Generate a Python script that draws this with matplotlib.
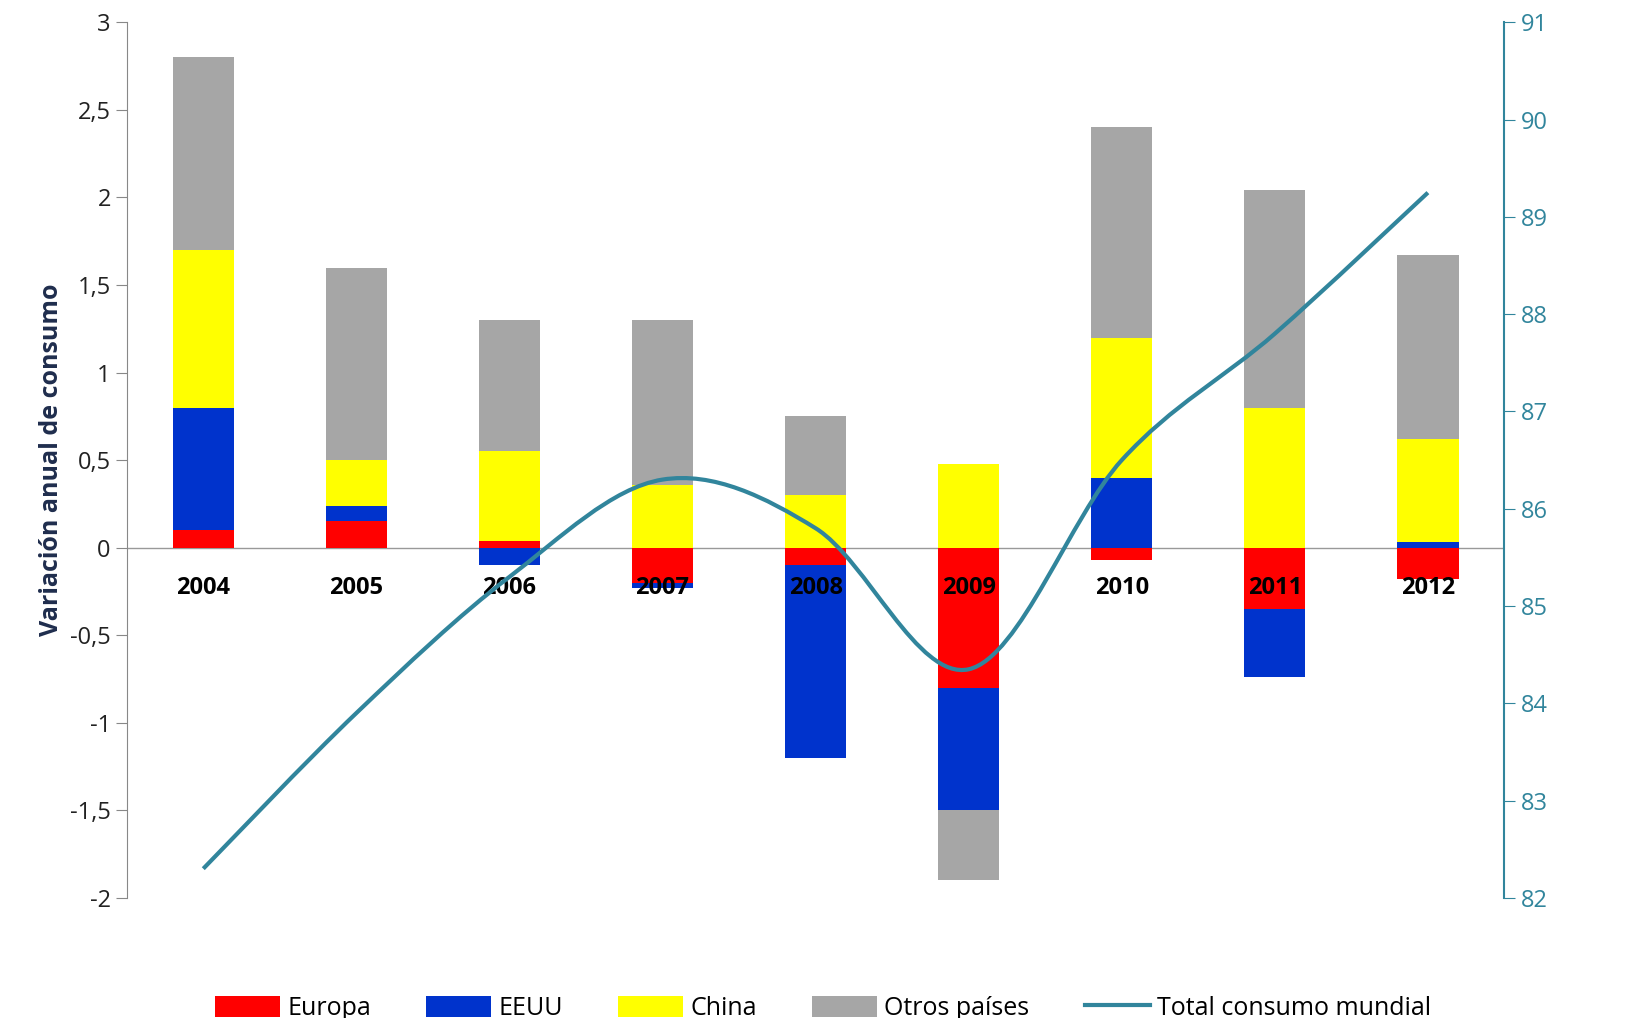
import matplotlib
matplotlib.use("Agg")
import matplotlib.pyplot as plt
import numpy as np
from matplotlib.path import Path
from matplotlib.patches import PathPatch

years = ["2004","2005","2006","2007","2008","2009","2010","2011","2012"]
europa = [0.10, 0.15, 0.04, -0.20, -0.10, -0.80, -0.07, -0.35, -0.18]
eeuu   = [0.70, 0.09, -0.10, -0.03, -1.10, -0.70, 0.40, -0.39, 0.03]
china  = [0.90, 0.26, 0.51, 0.36, 0.30, 0.48, 0.80, 0.80, 0.59]
otros  = [1.10, 1.10, 0.75, 0.94, 0.45, -0.40, 1.20, 1.24, 1.05]
total  = [82.3, 83.9, 85.3, 86.3, 85.8, 84.35, 86.5, 87.8, 89.25]

plt.rcParams['font.family'] = ['Open Sans', 'DejaVu Sans']
fig = plt.figure(figsize=(16.46, 10.18), dpi=100)
ax = fig.add_axes([0.077, 0.118, 0.837, 0.86])
x = np.arange(len(years))
pos = np.zeros(len(x)); neg = np.zeros(len(x))
series = [(europa, "#ff0000", "Europa"), (eeuu, "#0033cc", "EEUU"),
          (china, "#ffff00", "China"), (otros, "#a6a6a6", "Otros países")]
for vals, c, lab in series:
    v = np.array(vals)
    bottom = np.where(v >= 0, pos, neg)
    ax.bar(x, v, 0.4, bottom=bottom, color=c, label=lab, zorder=2)
    pos = pos + np.where(v >= 0, v, 0)
    neg = neg + np.where(v < 0, v, 0)

ax.set_xlim(-0.5, 8.5)
ax.set_ylim(-2, 3)
ax.set_yticks(np.arange(-2, 3.01, 0.5))
ax.set_yticklabels([("%g" % t).replace(".", ",") for t in np.arange(-2, 3.01, 0.5)], fontsize=17, color="#222")
ax.set_xticks([])
ax.axhline(0, color="#999999", lw=1, zorder=1)
for s in ["top", "right", "bottom"]:
    ax.spines[s].set_visible(False)
ax.spines["left"].set_color("#888")
ax.tick_params(axis="y", length=8, color="#888")
for i, y in enumerate(years):
    ax.text(i, -0.23, y, ha="center", va="center", fontsize=17, fontweight="bold", zorder=5)
ax.set_ylabel("Variación anual de consumo", fontsize=18, fontweight="bold", color="#1f2d4d")

ax2 = ax.twinx()
ax2.set_ylim(82, 91)
ax2.set_yticks(range(82, 92))
for s in ["top", "left", "bottom"]:
    ax2.spines[s].set_visible(False)
ax2.spines["right"].set_color("#31859c")
ax2.spines["right"].set_linewidth(1.5)
ax2.tick_params(axis="y", colors="#31859c", labelsize=17, length=8)

P = np.column_stack([x, total]).astype(float)
verts = [P[0]]; codes = [Path.MOVETO]
for i in range(len(P) - 1):
    p0 = P[max(i - 1, 0)]; p1 = P[i]; p2 = P[i + 1]; p3 = P[min(i + 2, len(P) - 1)]
    c1 = p1 + (p2 - p0) / 6; c2 = p2 - (p3 - p1) / 6
    verts += [c1, c2, p2]; codes += [Path.CURVE4] * 3
ax2.add_patch(PathPatch(Path(verts, codes), fill=False, ec="#31859c", lw=3, zorder=3))
line, = ax2.plot([], [], color="#31859c", lw=3, label="Total consumo mundial")

h, l = ax.get_legend_handles_labels()
fig.legend(h + [line], l + ["Total consumo mundial"], loc="lower center", ncol=5,
           bbox_to_anchor=(0.5, -0.025), frameon=False, fontsize=18,
           handlelength=2.6, handleheight=0.9, handletextpad=0.3, columnspacing=2.2)
fig.savefig("out.png")
